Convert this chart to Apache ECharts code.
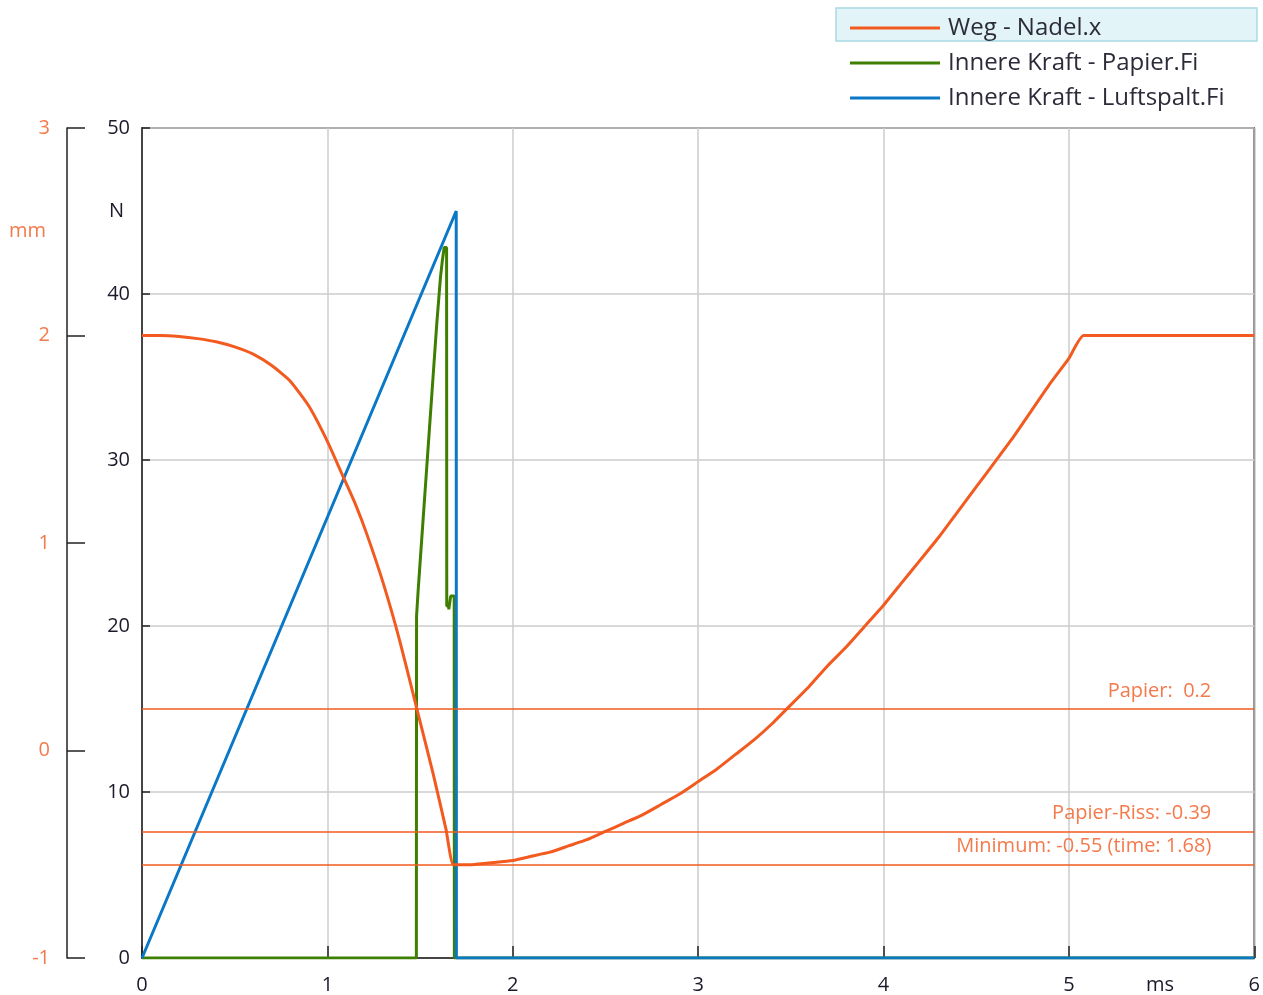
<!DOCTYPE html>
<html>
<head>
<meta charset="utf-8">
<script src="https://cdn.jsdelivr.net/npm/echarts@6/dist/echarts.min.js"></script>
<style>
  html, body { margin: 0; padding: 0; background: #ffffff; }
  #chart { width: 1263px; height: 995px; }
</style>
</head>
<body>
<div id="chart"></div>
<script>
// Nadel-Weg (mm) über der Zeit (ms)
const wegTime = [0, 0.1, 0.2, 0.3, 0.4, 0.5, 0.6, 0.7, 0.8, 0.9, 1.0, 1.08, 1.15, 1.21, 1.30, 1.39, 1.48, 1.57, 1.64, 1.68,
                 1.78, 1.9, 2.0, 2.1, 2.2, 2.3, 2.4, 2.5, 2.6, 2.7, 2.8, 2.9, 3.0, 3.1, 3.2, 3.3, 3.4, 3.5, 3.6, 3.7, 3.8, 3.9,
                 4.0, 4.1, 4.2, 4.3, 4.4, 4.5, 4.6, 4.7, 4.8, 4.9, 5.0, 5.08, 6.0];
const wegMm   = [2.00, 2.00, 1.995, 1.985, 1.97, 1.945, 1.91, 1.855, 1.78, 1.66, 1.49, 1.33, 1.19, 1.05, 0.81, 0.53, 0.21, -0.11, -0.38, -0.55,
                 -0.55, -0.54, -0.53, -0.51, -0.49, -0.46, -0.43, -0.39, -0.35, -0.31, -0.26, -0.21, -0.15, -0.09, -0.02, 0.05, 0.13, 0.22, 0.31, 0.41, 0.50, 0.60,
                 0.70, 0.81, 0.92, 1.03, 1.15, 1.27, 1.39, 1.51, 1.64, 1.77, 1.89, 2.00, 2.00];

// Innere Kraft Papier (N)
const papierTime = [0, 1.480, 1.481, 1.49, 1.50, 1.51, 1.52, 1.53, 1.54, 1.55, 1.56, 1.57, 1.58, 1.59, 1.60, 1.61, 1.62, 1.63,
                    1.643, 1.644, 1.655, 1.665, 1.684, 1.685, 6.00];
const papierN    = [0, 0, 20.6, 22.2, 23.8, 25.4, 27.0, 28.6, 30.2, 31.8, 33.4, 35.0, 36.6, 38.2, 39.6, 41.0, 42.0, 42.8,
                    42.8, 21.2, 21.0, 21.8, 21.8, 0, 0];

// Innere Kraft Luftspalt (N)
const luftTime = [0, 1.695, 1.696, 6.00];
const luftN    = [0, 45.0, 0, 0];

// Markierungen auf der Weg-Achse
const markValues = [0.2, -0.39, -0.55];
const markTexts  = ['Papier:  0.2', 'Papier-Riss: -0.39', 'Minimum: -0.55 (time: 1.68)'];

// Achsen
const timeTicks = [0, 1, 2, 3, 4, 5, 6];
const forceRange = [0, 50, 10];
const mmRange = [-1, 3, 1];

const seriesNames = ['Weg - Nadel.x', 'Innere Kraft - Papier.Fi', 'Innere Kraft - Luftspalt.Fi'];

const ORANGE = '#f25a1f';
const ORANGE_TEXT = '#f47a4c';
const GREEN = '#3f7f00';
const BLUE = '#0a78c6';
const FONT = 'Open Sans';

const pairs = (xs, ys) => xs.map((x, i) => [x, ys[i]]);

const chart = echarts.init(document.getElementById('chart'), null, { renderer: 'canvas' });

chart.setOption({
  animation: false,
  backgroundColor: '#ffffff',
  textStyle: { fontFamily: FONT },
  grid: {
    left: 142, right: 7, top: 128, bottom: 36,
    show: true, borderColor: '#222222', borderWidth: 1.5, backgroundColor: 'transparent'
  },
  legend: {
    orient: 'vertical',
    left: 845, top: 9,
    z: 10,
    icon: 'rect',
    itemWidth: 90, itemHeight: 3,
    itemGap: 7,
    data: seriesNames,
    selectedMode: false,
    textStyle: { fontFamily: FONT, fontSize: 24, color: '#2b2b3a', padding: [0, 0, 0, 3], lineHeight: 28 }
  },
  graphic: [
    {
      type: 'rect', z: 0,
      shape: { x: 836, y: 8, width: 421, height: 33 },
      style: { fill: '#e2f4f7', stroke: '#a9d9e3', lineWidth: 1.5 }
    },
    { type: 'text', left: 9, top: 221, style: { text: 'mm', fill: ORANGE_TEXT, font: '20px "' + FONT + '"' } },
    { type: 'text', left: 109, top: 201, style: { text: 'N', fill: '#1a1a2a', font: '20px "' + FONT + '"' } },
    { type: 'text', left: 1146, top: 975, style: { text: 'ms', fill: '#1a1a2a', font: '20px "' + FONT + '"' } }
  ],
  xAxis: {
    type: 'value',
    min: timeTicks[0], max: timeTicks[timeTicks.length - 1], interval: 1,
    axisLine: { show: true, onZero: false, lineStyle: { color: '#222222', width: 1.5 } },
    axisTick: { show: true, inside: true, length: 12, lineStyle: { color: '#222222', width: 1.5 } },
    axisLabel: { fontSize: 20, color: '#1a1a2a', margin: 17, fontFamily: FONT },
    splitLine: { show: true, lineStyle: { color: '#cccccc', width: 1.5 } }
  },
  yAxis: [
    {
      type: 'value',
      min: forceRange[0], max: forceRange[1], interval: forceRange[2],
      position: 'left',
      axisLine: { show: true, onZero: false, lineStyle: { color: '#222222', width: 1.5 } },
      axisTick: { show: true, inside: true, length: 8, lineStyle: { color: '#222222', width: 1.5 } },
      axisLabel: { fontSize: 20, color: '#1a1a2a', margin: 12, fontFamily: FONT },
      splitLine: { show: true, lineStyle: { color: '#cccccc', width: 1.5 } }
    },
    {
      type: 'value',
      min: mmRange[0], max: mmRange[1], interval: mmRange[2],
      position: 'left', offset: 75,
      axisLine: { show: true, onZero: false, lineStyle: { color: '#222222', width: 1.5 } },
      axisTick: { show: true, inside: true, length: 18, lineStyle: { color: '#222222', width: 1.5 } },
      axisLabel: { fontSize: 20, color: ORANGE_TEXT, margin: 17, fontFamily: FONT },
      splitLine: { show: false }
    }
  ],
  series: [
    {
      name: seriesNames[1],
      type: 'line',
      yAxisIndex: 0,
      data: pairs(papierTime, papierN),
      step: 'end',
      showSymbol: false, symbol: 'none',
      lineStyle: { color: GREEN, width: 3 },
      itemStyle: { color: GREEN },
      z: 2
    },
    {
      name: seriesNames[2],
      type: 'line',
      yAxisIndex: 0,
      data: pairs(luftTime, luftN),
      showSymbol: false, symbol: 'none',
      lineStyle: { color: BLUE, width: 3 },
      itemStyle: { color: BLUE },
      z: 3
    },
    {
      name: seriesNames[0],
      type: 'line',
      yAxisIndex: 1,
      data: pairs(wegTime, wegMm),
      smooth: 0.15,
      showSymbol: false, symbol: 'none',
      lineStyle: { color: ORANGE, width: 3 },
      itemStyle: { color: ORANGE },
      z: 4,
      markLine: {
        silent: true,
        symbol: ['none', 'none'],
        lineStyle: { color: ORANGE, width: 1.5, type: 'solid' },
        label: {
          show: true,
          position: 'insideEndTop',
          distance: [43, 8],
          color: ORANGE_TEXT,
          fontSize: 20,
          fontFamily: FONT
        },
        data: markValues.map((v, i) => ({
          yAxis: v,
          label: { formatter: markTexts[i] }
        }))
      }
    }
  ]
});
</script>
</body>
</html>
